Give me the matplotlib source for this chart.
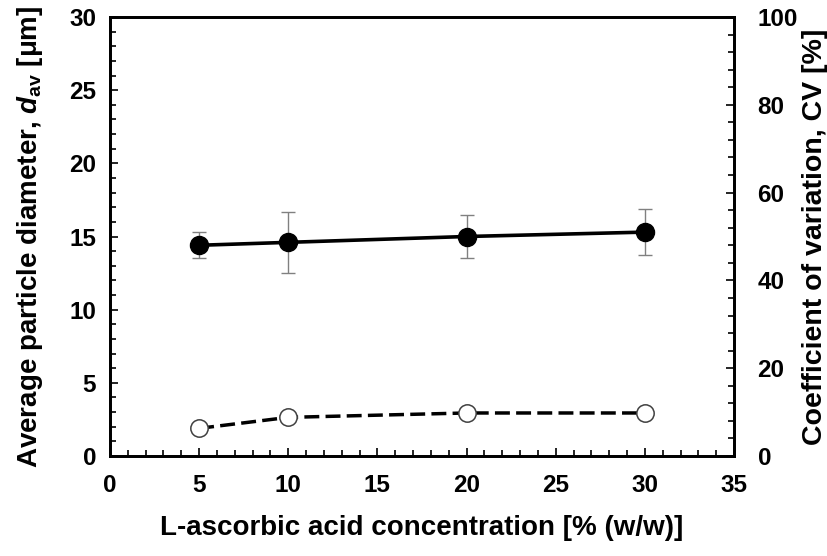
import matplotlib
matplotlib.use("Agg")
import matplotlib.pyplot as plt
from matplotlib.ticker import MultipleLocator

plt.rcParams['font.family'] = ['Liberation Sans', 'DejaVu Sans']
plt.rcParams['font.weight'] = 'bold'
plt.rcParams['mathtext.fontset'] = 'custom'
plt.rcParams['mathtext.rm'] = 'Liberation Sans:bold'
plt.rcParams['mathtext.it'] = 'Liberation Sans:italic:bold'
plt.rcParams['mathtext.bf'] = 'Liberation Sans:bold'

# Data
concentration = [5, 10, 20, 30]
d_av = [14.4, 14.6, 15.0, 15.3]
d_av_err = [0.9, 2.1, 1.5, 1.55]
cv = [6.3, 8.8, 9.8, 9.8]

xlabel = "L-ascorbic acid concentration [% (w/w)]"
ylabel_left = r"Average particle diameter, $d_{\mathrm{av}}$ [μm]"
ylabel_right = "Coefficient of variation, CV [%]"

fig = plt.figure(figsize=(8.28, 5.56), dpi=100)
ax = fig.add_axes([110/828, 1-456/556, (734-110)/828, (456-17)/556])
ax2 = ax.twinx()

ax.errorbar(concentration, d_av, yerr=d_av_err, fmt='none', ecolor='#808080',
            elinewidth=1.0, capsize=4.7, capthick=1.0, zorder=2)
ax.plot(concentration, d_av, '-', color='black', lw=2.6, marker='o',
        markersize=13, markerfacecolor='black', markeredgecolor='black', zorder=3)

ax2.plot(concentration, cv, color='black', lw=2.5, dashes=(4.3, 1.8), marker='o',
         markersize=12.5, markerfacecolor='white', markeredgecolor='#404040',
         markeredgewidth=1.1, zorder=3)

ax.set_xlim(0, 35)
ax.set_ylim(0, 30)
ax2.set_ylim(0, 100)

ax.xaxis.set_major_locator(MultipleLocator(5))
ax.xaxis.set_minor_locator(MultipleLocator(1))
ax.yaxis.set_major_locator(MultipleLocator(5))
ax.yaxis.set_minor_locator(MultipleLocator(1))
ax2.yaxis.set_major_locator(MultipleLocator(20))
ax2.yaxis.set_minor_locator(MultipleLocator(4))

for a in (ax, ax2):
    for s in a.spines.values():
        s.set_linewidth(2.0)

tick_fs = 17.5
ax.tick_params(axis='both', which='both', direction='in', top=False, right=False,
               labelsize=tick_fs, width=1.2)
ax.tick_params(axis='both', which='major', length=6)
ax.tick_params(axis='both', which='minor', length=4)
ax.tick_params(axis='y', pad=10)
ax.tick_params(axis='x', pad=13)
ax2.tick_params(axis='y', which='both', direction='in', labelsize=tick_fs, width=1.2, pad=17)
ax2.tick_params(axis='y', which='major', length=6)
ax2.tick_params(axis='y', which='minor', length=4)

for lbl in ax.get_xticklabels() + ax.get_yticklabels() + ax2.get_yticklabels():
    lbl.set_fontweight('bold')

ax.set_xlabel(xlabel, fontsize=20, fontweight='bold', labelpad=13)
ax.set_ylabel(ylabel_left, fontsize=20, fontweight='bold', labelpad=17)
ax2.set_ylabel(ylabel_right, fontsize=20.5, fontweight='bold', labelpad=3)

fig.savefig("out.png", dpi=100)
